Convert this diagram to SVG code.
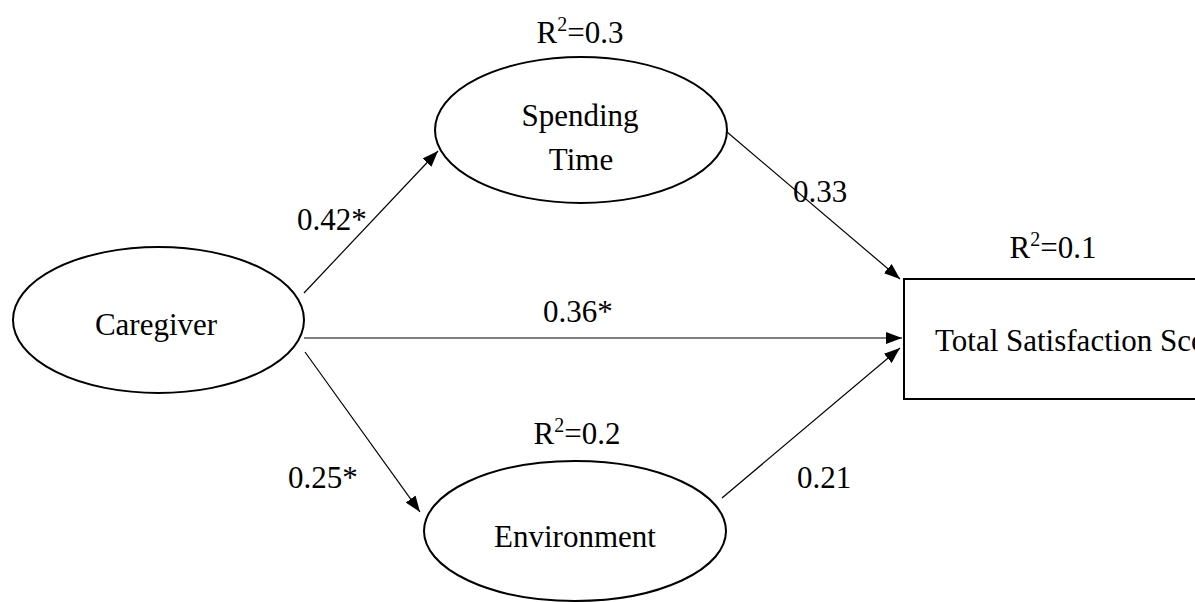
<svg xmlns="http://www.w3.org/2000/svg" width="1195" height="602" viewBox="0 0 1195 602">
<style>
.node{fill:#fff;stroke:#000;stroke-width:2}
text{font-family:'Liberation Serif','Times New Roman','DejaVu Serif',serif;font-size:31px;fill:#000}
.edge{stroke:#000;stroke-width:1.2;fill:none;marker-end:url(#ah)}
</style>
<defs>
<marker id="ah" viewBox="0 0 16 12" refX="16" refY="6" markerWidth="16" markerHeight="12" markerUnits="userSpaceOnUse" orient="auto">
<path d="M0,0 L16,6 L0,12 Z" fill="#000"/>
</marker>
</defs>
<rect width="1195" height="602" fill="#fff"/>
<g id="caregiver">
<ellipse class="node" cx="158.5" cy="320" rx="145.5" ry="73"/>
<text x="156" y="335" text-anchor="middle">Caregiver</text>
</g>
<g id="spending-time">
<ellipse class="node" cx="581" cy="130" rx="146" ry="73"/>
<text x="580" y="126" text-anchor="middle">Spending</text>
<text x="581" y="170" text-anchor="middle">Time</text>
<text x="580" y="43" text-anchor="middle">R<tspan font-size="20" dy="-12">2</tspan><tspan dy="12">=0.3</tspan></text>
</g>
<g id="environment">
<ellipse class="node" cx="575" cy="531" rx="151" ry="70"/>
<text x="575" y="547" text-anchor="middle">Environment</text>
<text x="577" y="444" text-anchor="middle">R<tspan font-size="20" dy="-12">2</tspan><tspan dy="12">=0.2</tspan></text>
</g>
<g id="total-satisfaction">
<rect class="node" x="904" y="279" width="320" height="120"/>
<text x="935" y="351">Total Satisfaction Score</text>
<text x="1053" y="258" text-anchor="middle">R<tspan font-size="20" dy="-12">2</tspan><tspan dy="12">=0.1</tspan></text>
</g>
<g id="connectors">
<line class="edge" x1="304" y1="293" x2="438" y2="151"/>
<line class="edge" x1="304" y1="338" x2="902" y2="338"/>
<line class="edge" x1="305" y1="352" x2="420" y2="512"/>
<line class="edge" x1="727" y1="132" x2="900" y2="279"/>
<line class="edge" x1="722" y1="498" x2="900" y2="348"/>
<text x="297" y="230">0.42*</text>
<text x="543" y="322">0.36*</text>
<text x="288" y="488">0.25*</text>
<text x="793" y="202">0.33</text>
<text x="797" y="488">0.21</text>
</g>
</svg>
